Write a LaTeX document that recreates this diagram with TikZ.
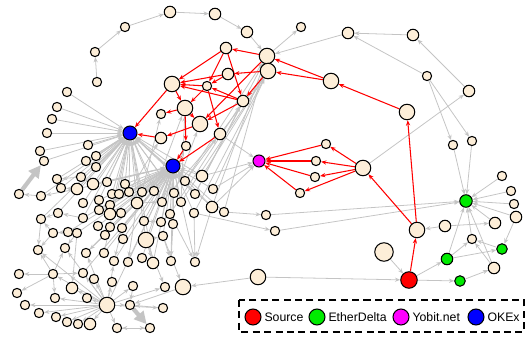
\documentclass[tikz,border=0pt]{standalone}
\usepackage{fontspec}
\setmainfont{Liberation Sans}
\usepackage{tikz}
\usetikzlibrary{arrows.meta}
\definecolor{addrFill}{RGB}{253,238,216}
\definecolor{edgeGray}{RGB}{196,196,196}
\definecolor{srcRed}{RGB}{255,0,0}
\definecolor{etherGreen}{RGB}{0,235,0}
\definecolor{yobitPink}{RGB}{255,0,255}
\definecolor{okexBlue}{RGB}{0,0,255}
\pgfdeclarelayer{edges}
\pgfsetlayers{edges,main}

\begin{document}
\begin{tikzpicture}[x=0.02cm, y=-0.02cm,
    addr/.style={circle, draw, fill=addrFill, line width=0.6pt, inner sep=0pt, minimum size=0.185cm},
    addrM/.style={addr, minimum size=0.23cm},
    addrL/.style={addr, minimum size=0.31cm},
    addrXL/.style={addr, minimum size=0.37cm},
    gedge/.style={draw=edgeGray, line width=0.45pt, -{Stealth[length=3pt,width=2.4pt]}},
    gthick/.style={draw=edgeGray, line width=2.4pt, -{Triangle[length=7pt,width=7pt]}},
    redge/.style={draw=srcRed, line width=0.6pt, -{Stealth[length=3pt,width=2.4pt]}},
    legtext/.style={anchor=west, inner sep=1.5pt, font=\fontsize{7}{8}\selectfont}]
\useasboundingbox (0,0) rectangle (529,339);

% top chain
\node[addr] (t1) at (97,82) {};
\node[addr] (t2) at (95,52) {};
\node[addr] (t3) at (125,27) {};
\node[addrM] (t4) at (170,12) {};
\node[addrM] (t5) at (215,14) {};
\node[addrM] (t6) at (247,32) {};
% upper right
\node[addrL] (p1) at (267,56) {};
\node[addrL] (p2) at (268,71) {};
\node[addr] (p3) at (301,27) {};
\node[addrM] (p4) at (348,33) {};
\node[addrM] (p5) at (413,35) {};
\node[addrL] (p6) at (331,81) {};
\node[addr] (p7) at (427,76) {};
\node[addrM] (p8) at (469,91) {};
\node[addrL] (p9) at (407,112) {};
% red fan
\node[addrM] (q1) at (226,48) {};
\node[addrM] (q2) at (228,74) {};
\node[addrL] (q3) at (172,84) {};
\node[addr] (q4) at (207,86) {};
\node[addrM] (q5) at (243,101) {};
\node[addrL] (q6) at (185,108) {};
\node[addr] (q7) at (161,114) {};
\node[addrL] (q8) at (200,124) {};
\node[addrM] (q9) at (161,138) {};
\node[addr] (q10) at (186,146) {};
\node[addrM] (q11) at (220,134) {};
\node[circle, draw, fill=okexBlue, line width=0.6pt, minimum size=0.28cm, inner sep=0pt] (okex1) at (130,133) {};
\node[circle, draw, fill=okexBlue, line width=0.6pt, minimum size=0.28cm, inner sep=0pt] (okex2) at (173,166) {};
\node[circle, draw, fill=yobitPink, line width=0.6pt, minimum size=0.24cm, inner sep=0pt] (yobit) at (259,161) {};
\node[addr] (y1) at (326,144) {};
\node[addr] (y2) at (316,161) {};
\node[addr] (y3) at (315,177) {};
\node[addr] (y4) at (300,193) {};
\node[addrL] (y5) at (363,168) {};
% east
\node[addr] (e1) at (453,145) {};
\node[addr] (e2) at (472,141) {};
\node[circle, draw, fill=etherGreen, line width=0.6pt, minimum size=0.25cm, inner sep=0pt] (ed1) at (466,201) {};
\node[addr] (e3) at (502,176) {};
\node[addr] (e4) at (511,191) {};
\node[addr] (e5) at (514,204) {};
\node[addrM] (e6) at (516,217) {};
\node[addrM] (e7) at (495,223) {};
\node[addr] (e8) at (472,239) {};
\node[circle, draw, fill=etherGreen, line width=0.6pt, minimum size=0.21cm, inner sep=0pt] (ed2) at (502,249) {};
\node[circle, draw, fill=etherGreen, line width=0.6pt, minimum size=0.23cm, inner sep=0pt] (ed3) at (447,259) {};
\node[circle, draw, fill=etherGreen, line width=0.6pt, minimum size=0.21cm, inner sep=0pt] (ed4) at (460,281) {};
\node[addrM] (e9) at (494,268) {};
\node[addrL] (e10) at (417,230) {};
\node[addrM] (e11) at (445,226) {};
\node[addrXL] (e12) at (384,252) {};
\node[circle, draw, fill=srcRed, line width=0.6pt, minimum size=0.33cm, inner sep=0pt] (src) at (409,280) {};
% west
\node[addr] (l1) at (67,92) {};
\node[addr] (l2) at (57,107) {};
\node[addr] (l3) at (52,119) {};
\node[addr] (l4) at (47,133) {};
\node[addr] (l5) at (40,151) {};
\node[addr] (l6) at (44,161) {};
\node[addr] (l7) at (88,145) {};
\node[addr] (l8) at (96,156) {};
\node[addr] (l9) at (86,161) {};
\node[addr] (l10) at (96,167) {};
% cluster
\node[addr] (c1) at (19,194) {};
\node[addr] (c2) at (41,196) {};
\node[addr] (c3) at (57,179) {};
\node[addr] (c4) at (61,188) {};
\node[addrM] (c5) at (77,189) {};
\node[addr] (c6) at (81,177) {};
\node[addrM] (c7) at (93,184) {};
\node[addr] (c8) at (107,182) {};
\node[addr] (c9) at (125,184) {};
\node[addr] (c10) at (112,194) {};
\node[addr] (c11) at (119,194) {};
\node[addr] (c12) at (129,192) {};
\node[addr] (c13) at (142,192) {};
\node[addr] (c14) at (154,191) {};
\node[addrM] (c15) at (137,203) {};
\node[addr] (c16) at (162,202) {};
\node[addr] (c17) at (174,193) {};
\node[addr] (c18) at (181,202) {};
\node[addr] (c19) at (185,181) {};
\node[addrM] (c20) at (202,176) {};
\node[addr] (c21) at (195,194) {};
\node[addrM] (c22) at (212,207) {};
\node[addr] (c23) at (224,212) {};
\node[addr] (c24) at (213,189) {};
\node[addr] (c25) at (83,203) {};
\node[addr] (c26) at (99,200) {};
\node[addr] (c27) at (110,205) {};
\node[addr] (c28) at (99,210) {};
\node[addrM] (c29) at (110,214) {};
\node[addr] (c30) at (121,213) {};
\node[addr] (c31) at (144,221) {};
\node[addr] (c32) at (161,222) {};
\node[addr] (c33) at (170,214) {};
\node[addr] (c34) at (173,224) {};
\node[addr] (c35) at (194,213) {};
\node[addr] (c36) at (163,236) {};
\node[addrL] (c37) at (146,240) {};
\node[addr] (c38) at (123,239) {};
\node[addr] (c39) at (122,228) {};
\node[addr] (c40) at (105,235) {};
\node[addr] (c41) at (110,227) {};
\node[addr] (c42) at (98,226) {};
\node[addr] (c43) at (83,218) {};
\node[addr] (c44) at (77,233) {};
\node[addr] (c45) at (68,232) {};
\node[addr] (c46) at (53,233) {};
\node[addr] (c47) at (58,213) {};
\node[addr] (c48) at (41,219) {};
\node[addr] (c50) at (266,215) {};
\node[addr] (c51) at (275,231) {};
% south
\node[addr] (d1) at (38,250) {};
\node[addr] (d2) at (65,248) {};
\node[addr] (d3) at (86,253) {};
\node[addr] (d4) at (104,253) {};
\node[addr] (d5) at (114,261) {};
\node[addr] (d6) at (128,262) {};
\node[addr] (d7) at (142,258) {};
\node[addrM] (d8) at (153,263) {};
\node[addr] (d9) at (171,261) {};
\node[addr] (d10) at (195,262) {};
\node[addr] (d11) at (19,274) {};
\node[addr] (d12) at (53,274) {};
\node[addr] (d13) at (83,273) {};
\node[addr] (d14) at (94,279) {};
\node[addr] (d15) at (112,282) {};
\node[addr] (d16) at (133,286) {};
\node[addr] (d17) at (165,287) {};
\node[addrL] (d18) at (183,287) {};
\node[addr] (d19) at (17,293) {};
\node[addr] (d20) at (55,298) {};
\node[addrM] (d21) at (72,288) {};
\node[addr] (d22) at (87,298) {};
\node[addrL] (d23) at (107,305) {};
\node[addr] (d24) at (130,305) {};
\node[addr] (d25) at (163,308) {};
\node[addr] (d26) at (25,305) {};
\node[addr] (d27) at (39,313) {};
\node[addr] (d28) at (56,317) {};
\node[addr] (d29) at (67,322) {};
\node[addr] (d30) at (78,324) {};
\node[addrM] (d31) at (90,324) {};
\node[addr] (d32) at (117,328) {};
\node[addr] (d33) at (150,328) {};
\node[addrL] (g1) at (258,277) {};

\begin{pgfonlayer}{edges}
% gray transfers
\foreach \a/\b in {t1/t2,t2/t3,t3/t4,t4/t5,t5/t6,t6/p1,p1/p3,p4/p1,p5/p4,p7/p4,p8/p5,p7/e1,p7/e2,y5/p8,
    e1/ed1,e2/ed1,e3/ed1,e4/ed1,e5/ed1,e6/ed1,e7/ed1,e8/ed1,e9/ed1,ed3/ed1,e6/ed2,ed2/e8,ed3/e8,ed3/ed2,
    ed4/e9,e9/e8,src/ed3,src/ed4,e12/src,g1/src,g1/d18,e11/e10,e11/e7,c50/ed1,c51/ed1,c23/c50,c35/c51,
    q11/yobit,c24/yobit,c22/yobit,c20/yobit,c20/p2,c24/p2,c19/p1,c22/p1,q11/p2,c18/p2,c21/p1,c35/p2,c23/p1,
    c14/q6,c16/q10,c17/q8,c19/q11,c21/q5,c13/q7,c12/q9,c33/q5,c16/q11,c18/q6,okex2/okex1}
  \draw[gedge] (\a) -- (\b);
\foreach \a in {l1,l2,l3,l4,l5,l6,l7,l8,l9,l10,c2,c3,c4,c5,c6,c7,c8,c9,c10,c11,c12,c13,c14,c15,c16,c17,c18,c19,c20,c21,c22,
    c25,c26,c29,c37,c43,c47,c48,d4,d8}
  \draw[gedge] (\a) -- (okex1);
\foreach \a in {c5,c7,c8,c9,c10,c11,c12,c13,c14,c15,c16,c17,c18,c19,c20,c21,c22,c23,c24,c26,c27,c28,c29,c30,c31,c32,
    c33,c34,c35,c36,c37,c38,c39,c40,c41,c42,c43,c44,c45,d3,d4,d5,d6,d7,d8,d9,d10,d13,d23}
  \draw[gedge] (\a) -- (okex2);
\foreach \a/\b in {c2/c1,c5/c2,c46/c48,c45/c46,c47/c48,c44/d2,c46/d1,c48/d1,c43/c47,c7/c6,c6/c3,c5/c4,c15/c16,
    c29/c30,c31/c32,c37/c36,c37/d8,c36/d9,c35/d10,c22/d10,c33/d10,c34/d9,c36/d18,c37/d17,c15/d6,c39/d5,c40/d3,c44/d21}
  \draw[gedge] (\a) -- (\b);
\foreach \a in {d12,d13,d14,d15,d16,d17,d20,d21,d22,d24,d25,d26,d27,d28,d29,d30,d31,d32,d1,d2,d3,d5}
  \draw[gedge] (d23) -- (\a);
\foreach \a in {d11,d19,d20,d1,d2,d13}
  \draw[gedge] (d12) -- (\a);
\foreach \a/\b in {d33/d32,d32/d33,d25/d24,d18/d24,d16/d24}
  \draw[gedge] (\a) -- (\b);
\draw[gthick] (c1) -- (l6);
\draw[gthick] (d24) -- (d33);
% red trail
\foreach \a/\b in {src/e10,e10/p9,e10/y5,p9/p6,p6/p1,p6/p2,y5/y1,y5/y2,y5/y3,y5/y4,y1/yobit,y2/yobit,y3/yobit,y4/yobit,
    p1/q1,p2/q2,p2/q5,p1/q8,q1/q3,q1/q4,q1/q5,q2/q3,q2/q4,q4/q3,q5/q3,q5/q4,q3/q6,q4/q6,q4/q11,q5/q8,
    q6/q7,q6/q10,q6/q8,q3/okex1,q9/okex1,q8/q9,q10/okex2,q11/okex2}
  \draw[redge] (\a) -- (\b);
\end{pgfonlayer}

% legend
\draw[line width=0.9pt, dash pattern=on 4pt off 2.5pt] (239,300) rectangle (524,332);
\node[circle, draw, fill=srcRed, line width=0.6pt, minimum size=0.32cm, inner sep=0pt] (lsrc) at (253,317) {};
\node[legtext] (lsrcT) at (lsrc.east) {Source};
\node[circle, draw, fill=etherGreen, line width=0.6pt, minimum size=0.32cm, inner sep=0pt] (led) at (317,317) {};
\node[legtext] (ledT) at (led.east) {EtherDelta};
\node[circle, draw, fill=yobitPink, line width=0.6pt, minimum size=0.32cm, inner sep=0pt] (lyo) at (401,317) {};
\node[legtext] (lyoT) at (lyo.east) {Yobit.net};
\node[circle, draw, fill=okexBlue, line width=0.6pt, minimum size=0.32cm, inner sep=0pt] (lok) at (476,317) {};
\node[legtext] (lokT) at (lok.east) {OKEx};
\end{tikzpicture}
\end{document}
